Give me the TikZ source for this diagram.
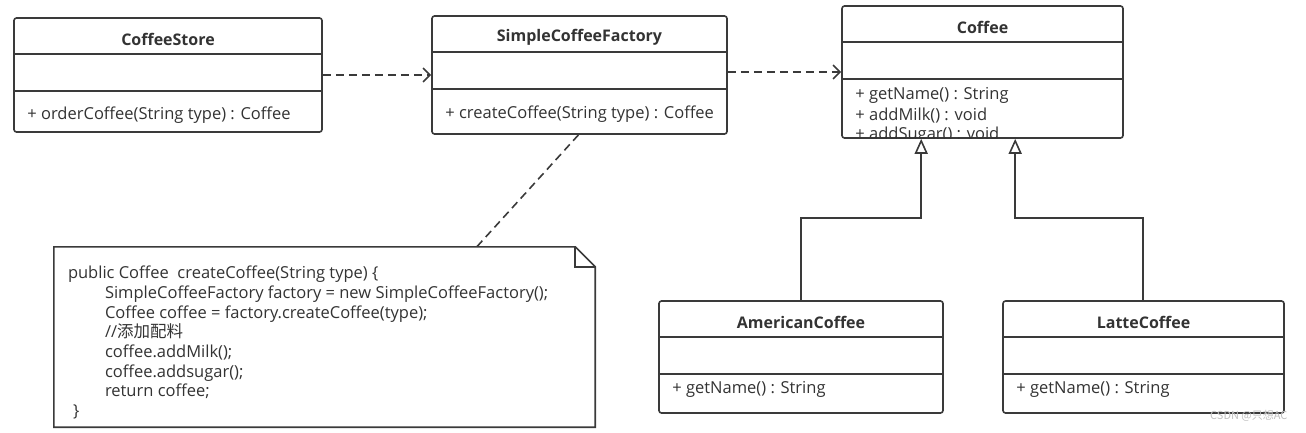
\documentclass[tikz,border=0pt]{standalone}
\usepackage{fontspec}
\setmainfont{Open Sans}
\newfontfamily\cjk{Noto Sans CJK SC}
\usetikzlibrary{arrows.meta}
\definecolor{umlline}{HTML}{3A3A3A}
\definecolor{umltext}{HTML}{333333}

\tikzset{
  classbox/.style={draw=umlline, line width=1.6pt, rounded corners=2.5pt, fill=white, inner sep=0pt},
  classname/.style={font=\bfseries\fontsize{16}{18}\selectfont, text=umltext},
  member/.style={font=\fontsize{16.5}{18}\selectfont, text=umltext, anchor=west, inner sep=0pt},
  divider/.style={draw=umlline, line width=1.6pt},
  depend/.style={draw=umlline, line width=1.6pt, dash pattern=on 8pt off 5pt, -{Straight Barb[length=7pt,width=14pt]}},
  inherit/.style={draw=umlline, line width=1.6pt, -{Triangle[open,length=15pt,width=13pt,fill=white]}}
}

\begin{document}
\begin{tikzpicture}[x=1pt,y=-1pt]
\useasboundingbox (0,0) rectangle (1306,432);

\node[classbox, minimum width=308pt, minimum height=114pt] (store) at (168,75) {};
\node[classbox, minimum width=295pt, minimum height=118pt] (factory) at (579.5,75) {};
\node[classbox, minimum width=281pt, minimum height=132pt] (coffee) at (982.5,72) {};
\node[classbox, minimum width=284pt, minimum height=112pt] (american) at (801,357) {};
\node[classbox, minimum width=281pt, minimum height=112pt] (latte) at (1143.5,357) {};

\foreach \c in {store,factory,coffee,american,latte}{
  \draw[divider] ([yshift=-37pt]\c.north west) -- ([yshift=-37pt]\c.north east);
  \draw[divider] ([yshift=-74pt]\c.north west) -- ([yshift=-74pt]\c.north east);
}

\node[classname] (storename) at ([yshift=-22pt]store.north) {CoffeeStore};
\node[classname] (factoryname) at ([yshift=-22pt]factory.north) {SimpleCoffeeFactory};
\node[classname] (coffeename) at ([yshift=-22pt]coffee.north) {Coffee};
\node[classname] (americanname) at ([yshift=-22pt]american.north) {AmericanCoffee};
\node[classname] (lattename) at ([yshift=-22pt]latte.north) {LatteCoffee};

\node[member] (storeop) at ([xshift=14pt,yshift=-98pt]store.north west) {+ orderCoffee(String type) : Coffee};
\node[member] (factoryop) at ([xshift=14pt,yshift=-99pt]factory.north west) {+ createCoffee(String type) : Coffee};
\node[member] (coffeeop1) at ([xshift=14pt,yshift=-90pt]coffee.north west) {+ getName() : String};
\node[member] (coffeeop2) at ([xshift=14pt,yshift=-110pt]coffee.north west) {+ addMilk() : void};
\begin{scope}
\clip ([yshift=0.8pt]coffee.south west) rectangle ([yshift=40pt]coffee.south east);
\node[member] (coffeeop3) at ([xshift=14pt,yshift=-130pt]coffee.north west) {+ addSugar() : void};
\end{scope}
\node[member] (americanop) at ([xshift=14pt,yshift=-89pt]american.north west) {+ getName() : String};
\node[member] (latteop) at ([xshift=14pt,yshift=-89pt]latte.north west) {+ getName() : String};

\draw[depend] (store) -- (factory);
\draw[depend] (factory.east |- coffee.west) -- (coffee.west);

\draw[inherit] (american.north) -- ++(0,-82) -| ([xshift=80pt]coffee.south west);
\draw[inherit] ([xshift=-0.5pt]latte.north) -- ++(0,-82) -| ([xshift=174pt]coffee.south west);

\node[minimum width=541pt, minimum height=180pt, inner sep=0pt] (note) at (324.5,337) {};
\draw[umlline, line width=1.6pt, fill=white] (note.north west) -- ([xshift=-20pt]note.north east) -- ([yshift=-20pt]note.north east) -- (note.south east) -- (note.south west) -- cycle;
\draw[umlline, line width=1.6pt] ([xshift=-20pt]note.north east) |- ([yshift=-20pt]note.north east);
\node[anchor=north west, align=left, inner sep=0pt, text=umltext, font=\fontsize{16.5}{19.7}\selectfont] (code) at ([xshift=14pt,yshift=-19pt]note.north west) {%
public Coffee\ \ createCoffee(String type) \{\\
\hspace*{37pt}SimpleCoffeeFactory factory = new SimpleCoffeeFactory();\\
\hspace*{37pt}Coffee coffee = factory.createCoffee(type);\\
\hspace*{37pt}//{\cjk 添加配料}\\
\hspace*{37pt}coffee.addMilk();\\
\hspace*{37pt}coffee.addsugar();\\
\hspace*{37pt}return coffee;\\
\hspace*{5pt}\}};

\draw[umlline, line width=1.6pt, dash pattern=on 8pt off 5pt] ([xshift=-1pt]factory.south) -- ([xshift=423pt]note.north west);

\node[anchor=east, text=black!25, font=\cjk\fontsize{11}{12}\selectfont] (mark) at (1291,416) {CSDN @只想AC};

\end{tikzpicture}
\end{document}
